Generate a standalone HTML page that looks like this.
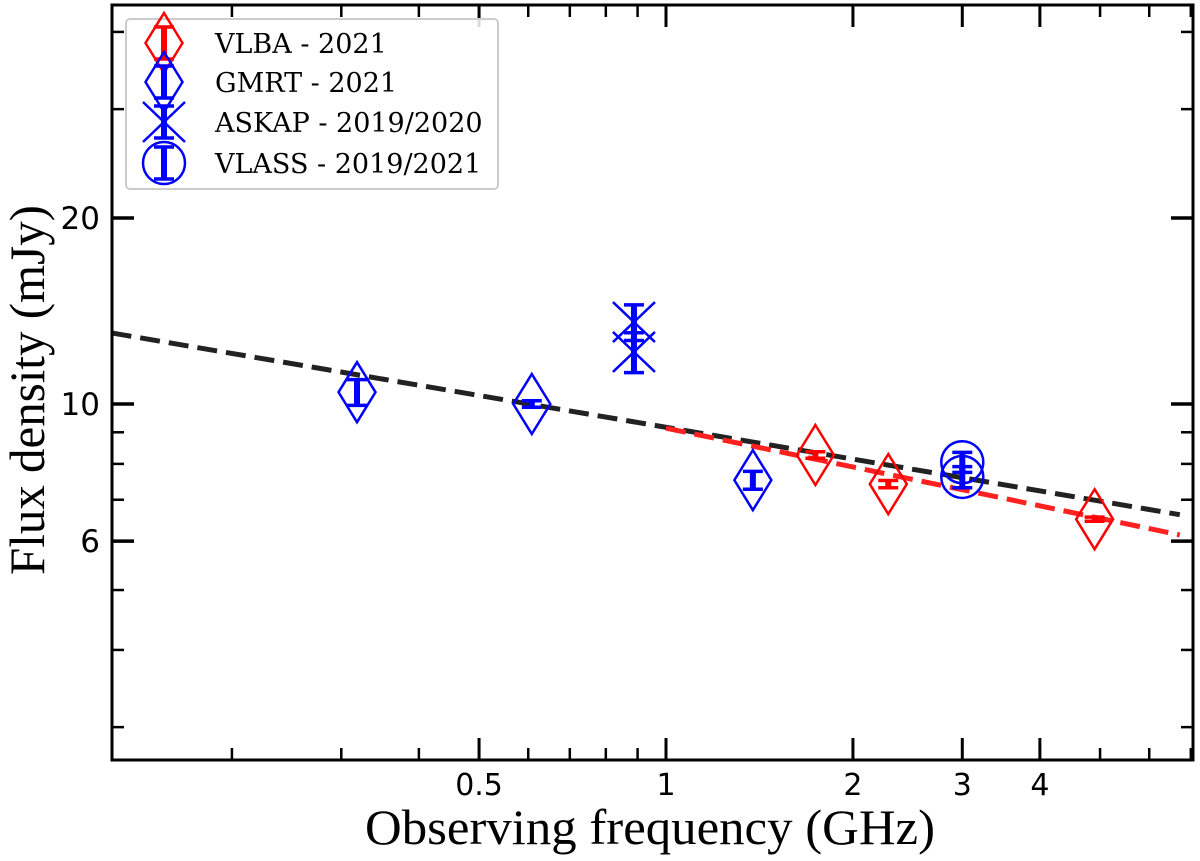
<!DOCTYPE html>
<html><head><meta charset="utf-8"><style>
body{margin:0;background:#fff}
svg{display:block}
</style></head><body>
<svg id="chart" width="1200" height="861" xmlns="http://www.w3.org/2000/svg">
<g id="grid"></g>
<g id="marks"></g>
<rect x="112" y="5" width="1081" height="755" fill="none" stroke="#000" stroke-width="3"/>
<text x="365" y="844" textLength="570" lengthAdjust="spacingAndGlyphs" font-family="Liberation Serif, serif" font-size="50">Observing frequency (GHz)</text>
<text transform="translate(44,575) rotate(-90)" textLength="370" lengthAdjust="spacingAndGlyphs" font-family="Liberation Serif, serif" font-size="50">Flux density (mJy)</text>
<g id="legend"></g>
</svg>
<script>
const xTickVals=[0.5,1,2,3,4];
const xTickLabels=["0.5","1","2","3","4"];
const xMinor=[0.2,0.3,0.4,0.6,0.7,0.8,0.9,5,6,7];
const yTickVals=[6,10,20];
const yTickLabels=["6","10","20"];
const yMinor=[3,4,5,7,8,9,30,40];
const vlbaFreq=[1.74,2.28,4.9];
const vlbaFlux=[8.27,7.42,6.51];
const vlbaErr=[0.1,0.1,0.05];
const gmrtFreq=[0.318,0.608,1.38];
const gmrtFlux=[10.45,10.0,7.53];
const gmrtErr=[0.5,0.12,0.25];
const askapFreq=[0.888,0.888];
const askapFlux=[13.57,12.14];
const askapErr=[0.9,0.9];
const vlassFreq=[3.0,3.0];
const vlassFlux=[8.05,7.62];
const vlassErr=[0.3,0.3];
const fitAllFreq=[0.128,6.72];
const fitAllFlux=[13.03,6.62];
const fitVlbaFreq=[1.0,6.72];
const fitVlbaFlux=[9.14,6.14];

const NS="http://www.w3.org/2000/svg";
const X0=666,XD=621,Y0=404,YD=618,L=112,R=1193,T=5,B=760;
function xs(f){return X0+XD*Math.log10(f);}
function ys(v){return Y0-YD*(Math.log10(v)-1);}
function mk(tag,at,parent){const e=document.createElementNS(NS,tag);for(const k in at)e.setAttribute(k,at[k]);parent.appendChild(e);return e;}
const grid=document.getElementById('grid'),marks=document.getElementById('marks'),leg=document.getElementById('legend');

xTickVals.forEach((v,i)=>{const x=xs(v);
 let t=mk('line',{x1:x,x2:x,y1:B,y2:B-22,stroke:'#000','stroke-width':3},grid);
 
 t=mk('line',{x1:x,x2:x,y1:T,y2:T+22,stroke:'#000','stroke-width':3},grid);
 
 const tx=mk('text',{x:x,y:B+35,'text-anchor':'middle','font-family':'DejaVu Sans, sans-serif','font-size':30},grid);
 tx.textContent=xTickLabels[i];
 });
xMinor.forEach(v=>{const x=xs(v);if(x<=L+2||x>=R-2)return;
 let t=mk('line',{x1:x,x2:x,y1:B,y2:B-12,stroke:'#000','stroke-width':2.5},grid);
 
 t=mk('line',{x1:x,x2:x,y1:T,y2:T+12,stroke:'#000','stroke-width':2.5},grid);
 });
yTickVals.forEach((v,i)=>{const y=ys(v);
 let t=mk('line',{x1:L,x2:L+22,y1:y,y2:y,stroke:'#000','stroke-width':3.5},grid);
 
 t=mk('line',{x1:R,x2:R-22,y1:y,y2:y,stroke:'#000','stroke-width':3.5},grid);
 
 const tx=mk('text',{x:100,y:y+11,'text-anchor':'end','font-family':'DejaVu Sans, sans-serif','font-size':31},grid);
 tx.textContent=yTickLabels[i];
 });
yMinor.forEach(v=>{const y=ys(v);if(y<=T+2||y>=B-2)return;
 let t=mk('line',{x1:L,x2:L+12,y1:y,y2:y,stroke:'#000','stroke-width':2.5},grid);
 
 t=mk('line',{x1:R,x2:R-12,y1:y,y2:y,stroke:'#000','stroke-width':2.5},grid);
 });

function fitLine(fr,fl,color,name){
 const l=mk('line',{x1:xs(fr[0]),y1:ys(fl[0]),x2:xs(fr[1]),y2:ys(fl[1]),stroke:color,'stroke-width':5,'stroke-dasharray':'20 9'},marks);
 }
function marker(g,type,x,y,c){
 if(type==='d')mk('polygon',{points:`${x},${y-30} ${x+18.5},${y} ${x},${y+30} ${x-18.5},${y}`,fill:'none',stroke:c,'stroke-width':2.5},g);
 else if(type==='o')mk('circle',{cx:x,cy:y,r:21,fill:'none',stroke:c,'stroke-width':2.5},g);
 else{mk('line',{x1:x-21,y1:y-20,x2:x+21,y2:y+20,stroke:c,'stroke-width':2.5},g);mk('line',{x1:x-21,y1:y+20,x2:x+21,y2:y-20,stroke:c,'stroke-width':2.5},g);}}
function errbar(g,x,y1,y2,c){
 mk('line',{x1:x,x2:x,y1:y1,y2:y2,stroke:c,'stroke-width':6},g);
 mk('line',{x1:x-10,x2:x+10,y1:y1,y2:y1,stroke:c,'stroke-width':3.5},g);
 mk('line',{x1:x-10,x2:x+10,y1:y2,y2:y2,stroke:c,'stroke-width':3.5},g);}
function series(fr,fl,er,type,c,name){
 fr.forEach((f,i)=>{const g=mk('g',{},marks);
  
  const x=xs(f);errbar(g,x,ys(fl[i]+er[i]),ys(fl[i]-er[i]),c);marker(g,type,x,ys(fl[i]),c);});}

fitLine(fitAllFreq,fitAllFlux,'#222','fit-line-all');
fitLine(fitVlbaFreq,fitVlbaFlux,'#ff2020','fit-line-vlba');
series(vlbaFreq,vlbaFlux,vlbaErr,'d','#ff0000','vlba');
series(gmrtFreq,gmrtFlux,gmrtErr,'d','#0000ff','gmrt');
series(askapFreq,askapFlux,askapErr,'x','#0000ff','askap');
series(vlassFreq,vlassFlux,vlassErr,'o','#0000ff','vlass');

const lb=mk('rect',{x:126,y:19,width:372,height:170,rx:4,fill:'#fff','fill-opacity':0.85,stroke:'#ccc','stroke-width':2},leg);

const legItems=[['VLBA - 2021','d','#ff0000',43],['GMRT - 2021','d','#0000ff',82],['ASKAP - 2019/2020','x','#0000ff',122],['VLASS - 2019/2021','o','#0000ff',163]];
legItems.forEach(it=>{const g=mk('g',{},leg);
 
 errbar(g,164,it[3]-16,it[3]+16,it[2]);marker(g,it[1],164,it[3],it[2]);
 const t=mk('text',{x:215,y:it[3]+10,'font-family':'DejaVu Serif, serif','font-size':27},g);t.textContent=it[0];});
</script>
</body></html>
